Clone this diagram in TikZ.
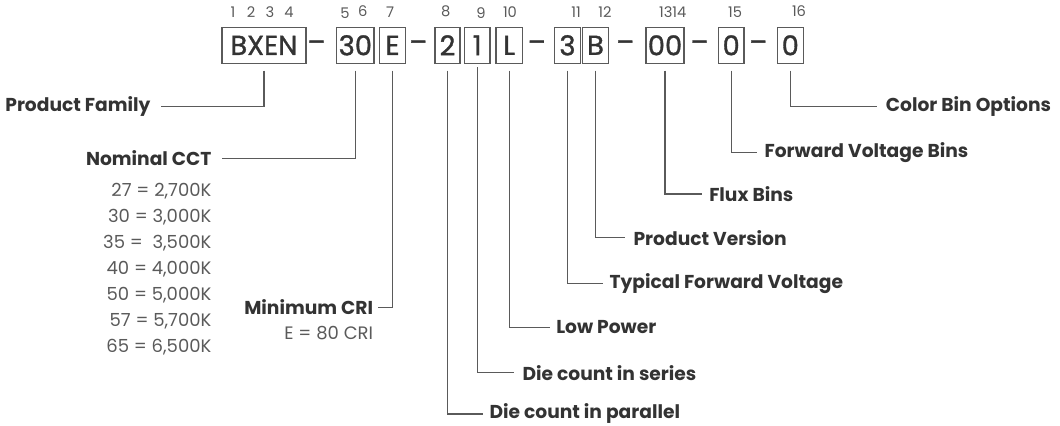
\documentclass[tikz,border=0pt]{standalone}
\usepackage{fontspec}
\setmainfont{Poppins}
\newfontfamily\codefont{Poppins}[FakeBold=1.2]
\definecolor{ink}{HTML}{333333}
\definecolor{soft}{HTML}{5A5A5A}
\tikzset{
  digit/.style={draw=soft, line width=0.9pt, minimum height=27pt, inner sep=0pt, text=ink, font=\codefont\fontsize{20.5}{21}\selectfont},
  dashsign/.style={inner sep=0pt, text=ink, font=\codefont\fontsize{20}{21}\selectfont},
  posnum/.style={inner sep=0pt, text=soft, font=\fontsize{11}{12}\selectfont},
  lbl/.style={inner sep=0pt, text=ink, font=\bfseries\fontsize{14}{17}\selectfont},
  vals/.style={inner sep=0pt, text=soft, align=right, font=\fontsize{13.5}{19.5}\selectfont},
  lead/.style={draw=soft, line width=0.9pt, shorten <=5pt},
}
\begin{document}
\begin{tikzpicture}[x=0.75pt, y=-0.75pt]
\useasboundingbox (0,0) rectangle (1060,425);
% code boxes
\node[digit, minimum width=63pt](fam) at (263.9,45.3) {BXEN};
\node[dashsign](d1) at (316.5,46) {–};
\node[digit, minimum width=28pt](cct) at (355.4,45.3) {30};
\node[digit, minimum width=19.8pt](cri) at (392.5,45.3) {E};
\node[dashsign](d2) at (418.3,46) {–};
\node[digit, minimum width=18.8pt](par) at (447.5,45.3) {2};
\node[digit, minimum width=19.3pt](ser) at (477.2,45.3) {1};
\node[digit, minimum width=19.7pt](pow) at (509.2,45.3) {L};
\node[dashsign](d3) at (536.8,46) {–};
\node[digit, minimum width=19.8pt](volt) at (567.5,45.3) {3};
\node[digit, minimum width=19.2pt](ver) at (595.5,45.3) {B};
\node[dashsign](d4) at (625.3,46) {–};
\node[digit, minimum width=28.5pt](flux) at (665,45.3) {00};
\node[dashsign](d5) at (699.5,46) {–};
\node[digit, minimum width=19.3pt](fvb) at (731.2,45.3) {0};
\node[dashsign](d6) at (758.3,46) {–};
\node[digit, minimum width=19.5pt](col) at (790.3,45.3) {0};
% position numbers
\node[posnum](n1) at (233,12) {1};
\node[posnum](n2) at (251,12) {2};
\node[posnum](n3) at (270,12) {3};
\node[posnum](n4) at (289,12) {4};
\node[posnum](n5) at (345,13) {5};
\node[posnum](n6) at (362.7,11) {6};
\node[posnum](n7) at (390,12) {7};
\node[posnum](n8) at (445.7,11) {8};
\node[posnum](n9) at (481,13) {9};
\node[posnum](n10) at (510,12) {10};
\node[posnum](n11) at (576,12) {11};
\node[posnum](n12) at (605,12) {12};
\node[posnum](n1314) at (672.7,12) {1314};
\node[posnum](n15) at (735,12) {15};
\node[posnum](n16) at (799,11) {16};
% labels, left side
\node[lbl, anchor=east](famL) at (150.7,106.7) {Product Family};
\node[lbl, anchor=east](cctL) at (211.7,158.3) {Nominal CCT};
\node[vals, anchor=north east](cctV) at (211.7,183.3) {27 = 2,700K\\30 = 3,000K\\35 = \ 3,500K\\40 = 4,000K\\50 = 5,000K\\57 = 5,700K\\65 = 6,500K};
\node[lbl, anchor=east](criL) at (373.3,307.3) {Minimum CRI};
\node[vals, anchor=east](criV) at (373.3,333.3) {E = 80 CRI};
% labels, right side
\node[lbl, anchor=west](parL) at (489.3,414) {Die count in parallel};
\node[lbl, anchor=west](serL) at (522.3,372.7) {Die count in series};
\node[lbl, anchor=west](powL) at (556,327.3) {Low Power};
\node[lbl, anchor=west](voltL) at (609.3,283.3) {Typical Forward Voltage};
\node[lbl, anchor=west](verL) at (633.3,237.7) {Product Version};
\node[lbl, anchor=west](fluxL) at (709,194) {Flux Bins};
\node[lbl, anchor=west](fvbL) at (764.3,152.7) {Forward Voltage Bins};
\node[lbl, anchor=west](colL) at (885.7,106.7) {Color Bin Options};
% leaders
\draw[lead, shorten >=8pt] (fam.south) |- (famL.east);
\draw[lead, shorten >=7.5pt] (cct.south) |- (cctL.east);
\draw[lead, shorten >=3.75pt] (cri.south) |- (criL.east);
\draw[lead, shorten >=4.5pt] (par.south) |- (parL.west);
\draw[lead, shorten >=6pt, shorten <=2.5pt] (ser.south) |- (serL.west);
\draw[lead, shorten >=4.5pt] (pow.south) |- (powL.west);
\draw[lead, shorten >=4.5pt] (volt.south) |- (voltL.west);
\draw[lead, shorten >=6pt] (ver.south) |- (verL.west);
\draw[lead, shorten >=5.5pt] (flux.south) |- (fluxL.west);
\draw[lead, shorten >=5.7pt] (fvb.south) |- (fvbL.west);
\draw[lead, shorten >=6.7pt] (col.south) |- (colL.west);
\end{tikzpicture}
\end{document}
